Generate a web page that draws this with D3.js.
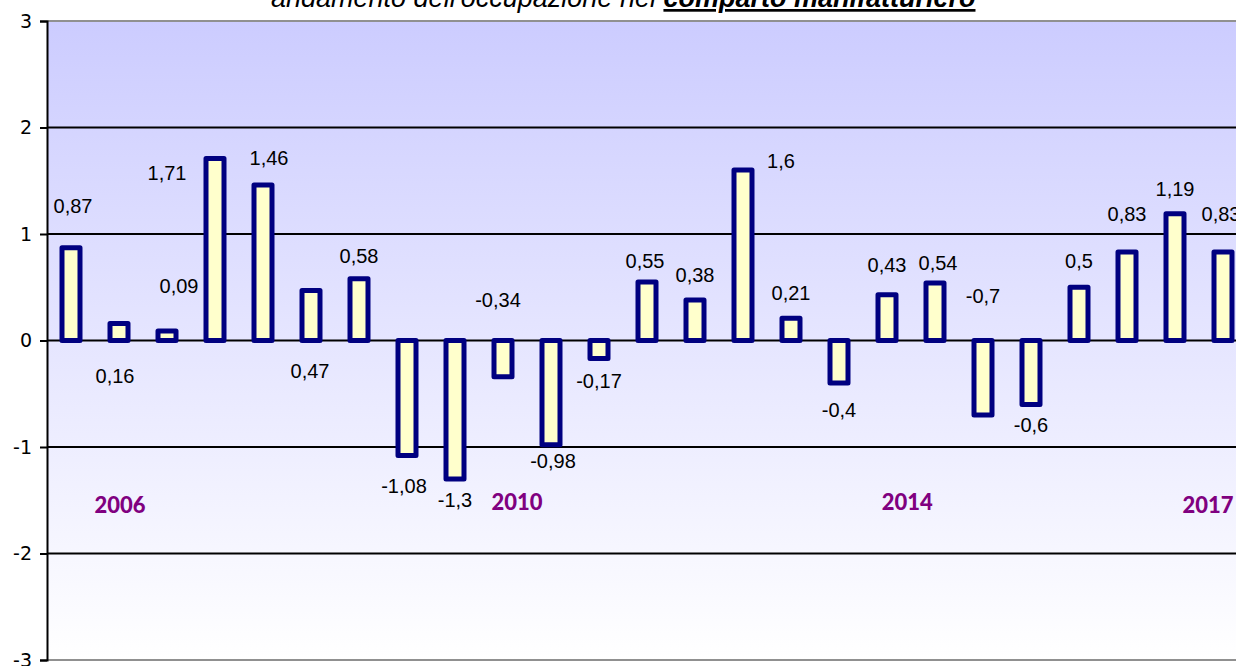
<!DOCTYPE html>
<html>
<head>
<meta charset="utf-8">
<script src="https://cdn.jsdelivr.net/npm/d3@7"></script>
<style>
  body { margin: 0; background: #fff; }
  svg { display: block; }
</style>
</head>
<body>
<div id="chart"></div>
<script>
// values, one per quarter-ish period
var values = [0.87, 0.16, 0.09, 1.71, 1.46, 0.47, 0.58, -1.08, -1.3, -0.34, -0.98, -0.17,
              0.55, 0.38, 1.6, 0.21, -0.4, 0.43, 0.54, -0.7, -0.6, 0.5, 0.83, 1.19, 0.83];
var yTicks = [-3, -2, -1, 0, 1, 2, 3];
var years = ["2006", "2010", "2014", "2017"];
var titleNormal = "andamento dell'occupazione nel ";
var titleBold = "comparto manifatturiero";

// label placement (pixels, relative to bar centre / bar end) - hand placed like the original
var labelDx = [2, -4, 12, -48, 6, -1, 0, -3, 0, -5, 2, 0, -2, 0, 38, 0, 0, 0, 3, 0, 0, 0, 0, 0, -2];
var labelDy = [-35, 60, -38, 22, -20, 88, -16, 37, 28, -70, 23, 29, -14, -18, -2, -18, 34, -23, -13, -112, 28, -19, -31, -18, -31];
// year captions sit at fractional bar positions
var yearPos = [1.02, 9.29, 17.42, 23.69];
var yearBase = [513, 510, 510, 513];

let width = 1236;
let height = 666;
var plot = {left: 47, top: 21, right: 1247, bottom: 660};

var svg = d3.select("#chart").append("svg")
    .attr("width", width)
    .attr("height", height);

var defs = svg.append("defs");
var grad = defs.append("linearGradient")
    .attr("id", "bg")
    .attr("x1", 0).attr("y1", 0).attr("x2", 0).attr("y2", 1);
grad.append("stop").attr("offset", "0%").attr("stop-color", "#ccccff");
grad.append("stop").attr("offset", "100%").attr("stop-color", "#ffffff");

var x = d3.scaleBand()
    .domain(d3.range(values.length))
    .range([plot.left, plot.right]);

var y = d3.scaleLinear()
    .domain([-3, 3])
    .range([plot.bottom, plot.top]);

// background
svg.append("rect")
    .attr("x", plot.left)
    .attr("y", plot.top)
    .attr("width", plot.right - plot.left)
    .attr("height", plot.bottom - plot.top)
    .attr("fill", "url(#bg)");

// grid lines
svg.selectAll("line.grid")
    .data(yTicks)
    .enter().append("line")
    .attr("class", "grid")
    .attr("x1", plot.left)
    .attr("x2", plot.right)
    .attr("y1", function(d) { return y(d); })
    .attr("y2", function(d) { return y(d); })
    .attr("stroke", function(d) { return (d === 3 || d === -3) ? "#909090" : "#000"; })
    .attr("stroke-width", 2);

// y axis
var yAxis = d3.axisLeft(y)
    .tickValues(yTicks)
    .tickSize(7)
    .tickPadding(8)
    .tickFormat(function(d) { return String(d); });

var ax = svg.append("g")
    .attr("transform", "translate(" + plot.left + ",0)")
    .call(yAxis);
ax.attr("font-size", 19).attr("font-family", "DejaVu Sans, Verdana, sans-serif");
ax.select(".domain").attr("stroke", "#000").attr("stroke-width", 2);
ax.selectAll(".tick line").attr("stroke", "#000").attr("stroke-width", 2);
ax.selectAll(".tick text").attr("fill", "#000");

// bars
svg.selectAll("rect.bar")
    .data(values)
    .enter().append("rect")
    .attr("class", "bar")
    .attr("x", function(d, i) { return x(i) + x.bandwidth() / 2 - 9; })
    .attr("width", 18)
    .attr("y", function(d) { return Math.min(y(d), y(0)); })
    .attr("height", function(d) { return Math.abs(y(d) - y(0)); })
    .attr("fill", "#ffffcc")
    .attr("stroke", "#000080")
    .attr("stroke-width", 5)
    .attr("stroke-linejoin", "round");

// value labels
svg.selectAll("text.val")
    .data(values)
    .enter().append("text")
    .attr("class", "val")
    .attr("x", function(d, i) { return x(i) + x.bandwidth() / 2 + labelDx[i]; })
    .attr("y", function(d, i) { return y(d) + labelDy[i]; })
    .attr("text-anchor", "middle")
    .style("font-family", "Liberation Sans, Arial, sans-serif")
    .style("font-size", "20px")
    .attr("fill", "#000")
    .text(function(d) { return String(d).replace(".", ","); });

// year captions
svg.selectAll("text.year")
    .data(years)
    .enter().append("text")
    .attr("class", "year")
    .attr("x", function(d, i) { return plot.left + (yearPos[i] + 0.5) * x.bandwidth(); })
    .attr("y", function(d, i) { return yearBase[i]; })
    .attr("text-anchor", "middle")
    .style("font-family", "Lato, Open Sans, sans-serif")
    .style("font-weight", "900")
    .style("font-size", "22px")
    .attr("fill", "#800080")
    .text(function(d) { return d; });

// title, mostly cut off at the top like the original
var title = svg.append("text")
    .attr("x", 271)
    .attr("y", 7)
    .style("font-family", "Liberation Sans, Arial, sans-serif")
    .style("font-style", "italic")
    .style("font-size", "27px")
    .attr("fill", "#000");
title.append("tspan").text(titleNormal);
title.append("tspan")
    .style("font-weight", "bold")
    .style("text-decoration", "underline")
    .text(titleBold);
</script>
</body>
</html>
